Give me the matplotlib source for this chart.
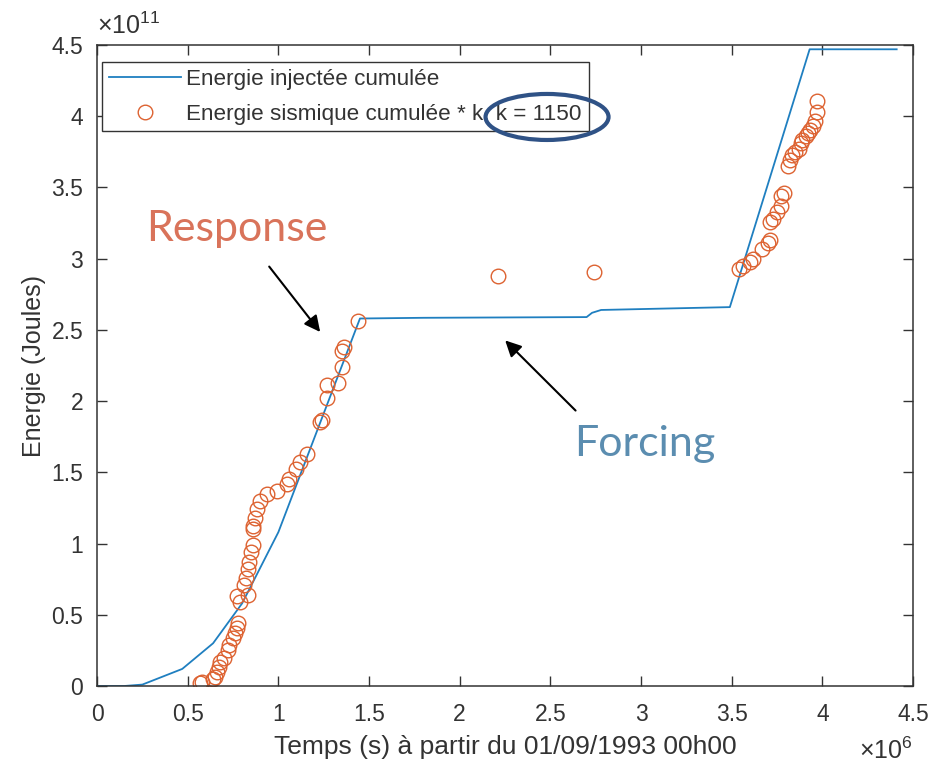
import matplotlib
matplotlib.use('Agg')
import numpy as np
import matplotlib.pyplot as plt
from matplotlib.patches import Ellipse
from matplotlib.ticker import FuncFormatter, MultipleLocator

# cumulated injected energy (time in 1e6 s, energy in 1e11 J)
t_inj = np.array([0.0, 0.15, 0.25, 0.47, 0.64, 0.80, 1.00, 1.45, 1.80, 2.70,
                  2.73, 2.78, 3.49, 3.93, 4.41]) * 1e6
e_inj = np.array([0.0, 0.0, 0.01, 0.12, 0.30, 0.58, 1.08, 2.58, 2.585, 2.59,
                  2.62, 2.64, 2.66, 4.47, 4.47]) * 1e11

# cumulated seismic energy * k
t_sis = np.array([0.57, 0.58, 0.64, 0.65, 0.66, 0.67, 0.68, 0.70, 0.72, 0.73,
                  0.75, 0.76, 0.77, 0.78, 0.79, 0.77, 0.83, 0.81, 0.82, 0.83,
                  0.84, 0.85, 0.86, 0.86, 0.86, 0.87, 0.88, 0.90, 0.94, 0.99,
                  1.05, 1.06, 1.10, 1.12, 1.16, 1.23, 1.24, 1.27, 1.27, 1.33,
                  1.35, 1.35, 1.36, 1.44, 2.21, 2.74,
                  3.54, 3.56, 3.60, 3.62, 3.67, 3.70, 3.71, 3.71, 3.73, 3.75,
                  3.77, 3.77, 3.79, 3.81, 3.82, 3.83, 3.85, 3.87, 3.88, 3.89,
                  3.91, 3.92, 3.93, 3.95, 3.96, 3.97, 3.97]) * 1e6
e_sis = np.array([0.02, 0.03, 0.05, 0.06, 0.10, 0.13, 0.17, 0.20, 0.25, 0.29,
                  0.34, 0.37, 0.41, 0.44, 0.59, 0.63, 0.64, 0.71, 0.76, 0.82,
                  0.87, 0.94, 0.99, 1.10, 1.12, 1.18, 1.24, 1.30, 1.35, 1.37,
                  1.42, 1.45, 1.52, 1.57, 1.63, 1.85, 1.87, 2.02, 2.11, 2.13,
                  2.24, 2.35, 2.38, 2.56, 2.88, 2.91,
                  2.93, 2.95, 2.98, 3.00, 3.07, 3.11, 3.13, 3.26, 3.28, 3.33,
                  3.37, 3.44, 3.46, 3.65, 3.69, 3.73, 3.75, 3.77, 3.81, 3.83,
                  3.86, 3.88, 3.90, 3.93, 3.97, 4.03, 4.11]) * 1e11

k = 1150

plt.rcParams['font.family'] = ['Liberation Sans', 'DejaVu Sans']
plt.rcParams['mathtext.fontset'] = 'custom'
plt.rcParams['mathtext.rm'] = 'Liberation Sans'
plt.rcParams['mathtext.it'] = 'Liberation Sans'
axcol = '#333333'

fig = plt.figure(figsize=(9.34, 7.67), dpi=100)
ax = fig.add_axes([0.1039, 0.1056, 0.8736, 0.8357])

ax.plot(t_inj, e_inj, '-', color='#1F7FC0', lw=1.3,
        label='Energie injectée cumulée')
ax.plot(t_sis, e_sis, 'o', mfc='none', mec='#DD6231', ms=10.5, mew=1.0,
        label='Energie sismique cumulée * k, k = %d' % k)

ax.set_xlim(0, 4.5e6)
ax.set_ylim(0, 4.5e11)
ax.xaxis.set_major_locator(MultipleLocator(0.5e6))
ax.yaxis.set_major_locator(MultipleLocator(0.5e11))
ax.xaxis.set_major_formatter(FuncFormatter(lambda v, p: '%g' % (v / 1e6)))
ax.yaxis.set_major_formatter(FuncFormatter(lambda v, p: '%g' % (v / 1e11)))
ax.tick_params(direction='in', top=True, right=True, length=7, width=1,
               colors=axcol, labelsize=16.5)
ax.tick_params(axis='x', pad=12)
ax.tick_params(axis='y', pad=10)
for s in ax.spines.values():
    s.set_color(axcol)
    s.set_linewidth(1.1)

ax.set_xlabel('Temps (s) à partir du 01/09/1993 00h00', fontsize=19,
              color=axcol)
ax.set_ylabel('Energie (Joules)', fontsize=18, color=axcol)
ax.xaxis.set_label_coords(0.5, -0.076)
ax.yaxis.set_label_coords(-0.063, 0.5)

# exponent labels, MATLAB style
ax.text(0.0, 1.01, r'$\times\mathregular{10^{11}}$', transform=ax.transAxes,
        fontsize=18, color=axcol, ha='left', va='bottom')
ax.text(1.0, -0.101, r'$\times\mathregular{10^{6}}$', transform=ax.transAxes,
        fontsize=18, color=axcol, ha='right', va='center')

leg = ax.legend(loc='upper left', bbox_to_anchor=(0.006, 0.9735),
                fontsize=16.2, handlelength=3.2, fancybox=False,
                framealpha=1, edgecolor=axcol, borderaxespad=0,
                borderpad=0.3, labelspacing=0.62, handletextpad=0.25)
leg.get_frame().set_linewidth(1.0)
for t in leg.get_texts():
    t.set_color(axcol)

# notes on the plot
ax.annotate('', xy=(1.24e6, 2.47e11), xytext=(0.94e6, 2.96e11),
            arrowprops=dict(arrowstyle='-|>', mutation_scale=24, lw=1.5,
                            color='black'))
ax.annotate('', xy=(2.24e6, 2.44e11), xytext=(2.65e6, 1.92e11),
            arrowprops=dict(arrowstyle='-|>', mutation_scale=24, lw=1.5,
                            color='black'))
ax.text(0.77e6, 3.21e11, 'Response', family='Lato', fontsize=31,
        color='#D9735A', ha='center', va='center')
ax.text(3.02e6, 1.70e11, 'Forcing', family='Lato', fontsize=31,
        color='#5B8DB0', ha='center', va='center')

ell = Ellipse((0.5857, 0.8475), 0.1317, 0.060, transform=fig.transFigure,
              fill=False, edgecolor='#2F5286', lw=3, zorder=10)
fig.patches.append(ell)

plt.savefig('out.png', dpi=100)
